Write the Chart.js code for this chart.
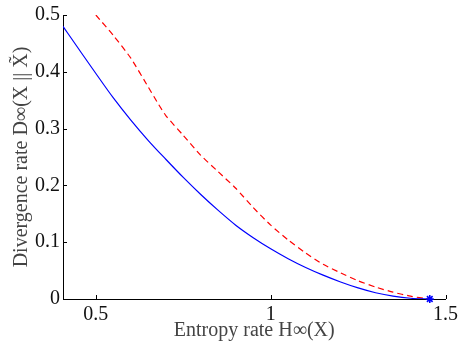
<!DOCTYPE html>
<html><head><meta charset="utf-8">
<script src="https://cdn.jsdelivr.net/npm/chart.js@4"></script>
<style>html,body{margin:0;padding:0;background:#fff}#wrap{width:462px;height:343px}</style>
</head><body><div id="wrap"><canvas id="c" width="462" height="343"></canvas></div>
<script>
// Blue solid curve
const blueX = [0.406, 0.45, 0.5, 0.55, 0.6, 0.65, 0.7, 0.75, 0.8, 0.85, 0.9, 0.95, 1.0, 1.05, 1.1, 1.15, 1.2, 1.25, 1.3, 1.35, 1.4, 1.455];
const blueY = [0.480, 0.441, 0.397, 0.354, 0.315, 0.279, 0.246, 0.214, 0.184, 0.156, 0.130, 0.108, 0.0885, 0.071, 0.0555, 0.042, 0.030, 0.0195, 0.011, 0.005, 0.0013, 0];
// Red dashed curve
const redX = [0.5, 0.55, 0.6, 0.65, 0.68, 0.7, 0.75, 0.8, 0.85, 0.9, 0.95, 1.0, 1.05, 1.1, 1.15, 1.2, 1.25, 1.3, 1.35, 1.4, 1.45];
const redY = [0.5, 0.464, 0.424, 0.373, 0.342, 0.323, 0.288, 0.253, 0.224, 0.195, 0.161, 0.130, 0.104, 0.081, 0.061, 0.046, 0.032, 0.021, 0.012, 0.005, 0];
// Marker
const markerX = [1.455];
const markerY = [0];
// Axes
const xTicks = [0.5, 1, 1.5];
const yTicks = [0, 0.1, 0.2, 0.3, 0.4, 0.5];
const xRange = [0.406, 1.5];
const yRange = [0, 0.5];
const xTitle = 'Entropy rate H\u221E(X)';
const yTitle = 'Divergence rate D\u221E(X || X\u0303)';

const pts = (xs, ys) => xs.map((x, i) => ({x, y: ys[i]}));

const inTicks = {
  id: 'inTicks',
  afterDraw(chart) {
    const {ctx, chartArea: a, scales: {x, y}} = chart;
    ctx.save();
    ctx.strokeStyle = '#000';
    ctx.lineWidth = 1;
    ctx.beginPath();
    x.ticks.forEach(t => { const p = Math.round(x.getPixelForValue(t.value)) + 0.5; ctx.moveTo(p, a.bottom); ctx.lineTo(p, a.bottom - 4); });
    y.ticks.forEach(t => { const p = Math.round(y.getPixelForValue(t.value)) + 0.5; ctx.moveTo(a.left, p); ctx.lineTo(a.left + 4, p); });
    ctx.stroke();
    ctx.restore();
  }
};

const serif = '"Liberation Serif", "Times New Roman", serif';

new Chart(document.getElementById('c'), {
  type: 'scatter',
  data: {
    datasets: [
      { data: pts(blueX, blueY), showLine: true, borderColor: '#0000ff', borderWidth: 1.2, pointRadius: 0, cubicInterpolationMode: 'monotone', fill: false },
      { data: pts(redX, redY), showLine: true, borderColor: '#ff0000', borderWidth: 1.2, borderDash: [6, 4], pointRadius: 0, tension: 0.2, fill: false },
      { data: pts(markerX, markerY), showLine: false, pointStyle: 'star', pointRadius: 4, borderColor: '#0000ff', backgroundColor: '#0000ff', borderWidth: 1.6, clip: false }
    ]
  },
  options: {
    responsive: false,
    animation: false,
    devicePixelRatio: 1,
    layout: { padding: { left: 0, top: 15, right: 13, bottom: 0 } },
    plugins: { legend: { display: false }, tooltip: { enabled: false } },
    scales: {
      x: {
        type: 'linear', min: xRange[0], max: xRange[1],
        afterBuildTicks: s => { s.ticks = xTicks.map(v => ({value: v})); },
        afterFit: s => { s.height = 44; },
        grid: { display: false, drawTicks: false },
        border: { display: true, color: '#000', width: 1 },
        ticks: { color: '#111', font: { family: serif, size: 20 }, padding: 4, maxRotation: 0, callback: v => String(v) },
        title: { display: true, text: xTitle, color: '#444', font: { family: serif, size: 20 }, padding: { top: 0, bottom: 0 } }
      },
      y: {
        type: 'linear', min: yRange[0], max: yRange[1],
        afterBuildTicks: s => { s.ticks = yTicks.map(v => ({value: v})); },
        afterFit: s => { s.width = 63; },
        grid: { display: false, drawTicks: false },
        border: { display: true, color: '#000', width: 1 },
        ticks: { color: '#111', font: { family: serif, size: 20 }, padding: 3, callback: v => String(v) },
        title: { display: true, text: yTitle, color: '#444', font: { family: serif, size: 20 }, padding: { top: 10, bottom: 0 } }
      }
    }
  },
  plugins: [inTicks]
});
</script>
</body></html>
